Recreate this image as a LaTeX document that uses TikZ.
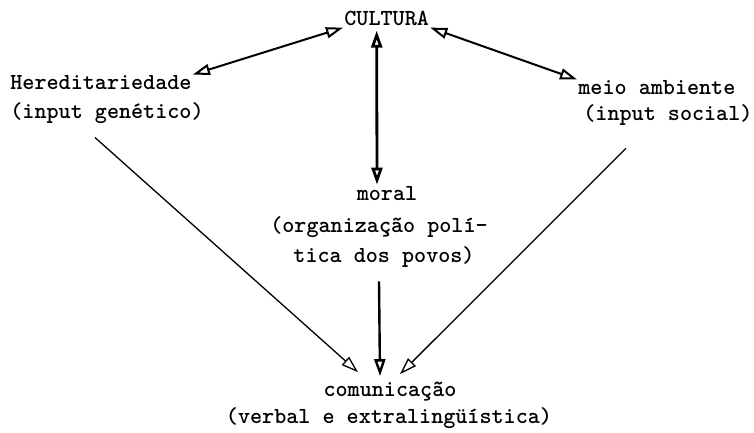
\documentclass[tikz,border=0pt]{standalone}
\usepackage{fontspec}
\newfontfamily\twfont{lmmonolt10-bold.otf}
\usetikzlibrary{arrows.meta}

\begin{document}
\begin{tikzpicture}[x=1pt,y=-1pt]
        \tikzstyle{every path}=[thick]
        \tikzstyle{tw}=[font=\twfont\fontsize{23}{28}\selectfont,inner sep=1pt]
        \tikzstyle{up}=[line width=2pt]
        \tikzstyle{down}=[line width=1.3pt]
        \tikzset{>={Triangle[open,length=17pt,width=11pt]}}

        \useasboundingbox (0,0) rectangle (754,433);

        % top
        \node [tw,anchor=base west] (cultura) at (343,26) {CULTURA};
        % left and right
        \node [tw,anchor=base west] (hered) at (9,90) {Hereditariedade};
        \node [tw,anchor=base west] (heredin) at (9,118) {(input genético)};
        \node [tw,anchor=base west] (meio) at (577,95) {meio ambiente};
        \node [tw,anchor=base west] (meioin) at (582,121) {(input social)};
        % middle
        \node [tw,anchor=base] (moral) at (387,200) {moral};
        \node [tw,anchor=base] (moral2) at (379,232) {(organização polí-};
        \node [tw,anchor=base] (moral3) at (384,262) {tica dos povos)};
        % bottom
        \node [tw,anchor=base] (comm) at (390,396) {comunicação};
        \node [tw,anchor=base] (commin) at (389,423) {(verbal e extralingüística)};

        \draw[<->, up] (cultura.south west) to (hered.north east);      % cultura-hered
        \draw[<->, up] (cultura.south east) to (meio.north west);       % cultura-meio
        \draw[<->, line width=2.8pt, shorten <=3pt]
            ([xshift=-10pt]cultura.south) to ([xshift=-10pt]moral.north); % cultura-moral
        \draw[->, down] ([xshift=-12pt,yshift=-13pt]heredin.south)
            to ([xshift=-32pt,yshift=8pt]comm.north);                  % hered->comm
        \draw[->, line width=2.4pt] ([xshift=-5pt,yshift=-13pt]moral3.south)
            to ([xshift=-10pt,yshift=4pt]comm.north);                  % moral->comm
        \draw[->, down] ([xshift=-42pt,yshift=-21pt]meioin.south)
            to ([xshift=10pt,yshift=6pt]comm.north);                   % meio->comm
\end{tikzpicture}
\end{document}
